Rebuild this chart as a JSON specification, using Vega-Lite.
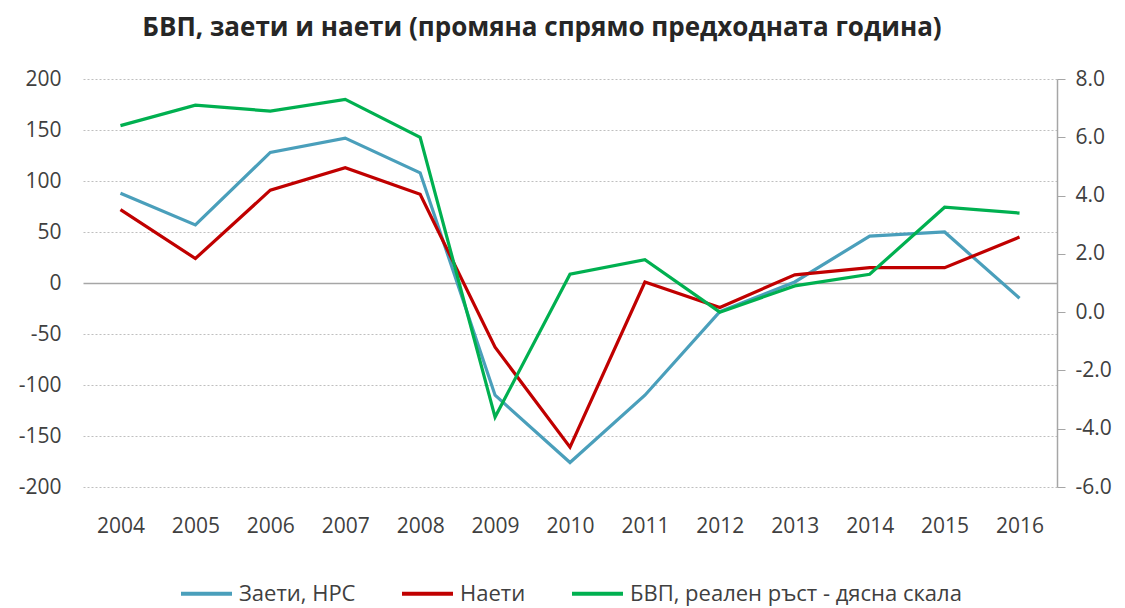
{
  "$schema": "https://vega.github.io/schema/vega-lite/v6.json",
  "width": 974,
  "height": 408,
  "autosize": {"type": "none"},
  "padding": {"left": 83, "top": 79, "right": 68, "bottom": 121},
  "background": "white",
  "title": {
    "text": "БВП, заети и наети (промяна спрямо предходната година)",
    "font": "Open Sans",
    "fontSize": 26,
    "fontWeight": "bold",
    "color": "#262626",
    "anchor": "middle",
    "offset": 27,
    "dx": -28
  },
  "config": {
    "view": {"stroke": null},
    "font": "Open Sans",
    "legend": {"layout": {"bottom": {"anchor": "middle"}}}
  },
  "data": {
    "values": [
      {"year": "2004", "series": "Заети, НРС", "value": 88},
      {"year": "2005", "series": "Заети, НРС", "value": 57},
      {"year": "2006", "series": "Заети, НРС", "value": 128},
      {"year": "2007", "series": "Заети, НРС", "value": 142},
      {"year": "2008", "series": "Заети, НРС", "value": 108},
      {"year": "2009", "series": "Заети, НРС", "value": -110},
      {"year": "2010", "series": "Заети, НРС", "value": -176},
      {"year": "2011", "series": "Заети, НРС", "value": -110},
      {"year": "2012", "series": "Заети, НРС", "value": -28},
      {"year": "2013", "series": "Заети, НРС", "value": 1},
      {"year": "2014", "series": "Заети, НРС", "value": 46},
      {"year": "2015", "series": "Заети, НРС", "value": 50},
      {"year": "2016", "series": "Заети, НРС", "value": -15},
      {"year": "2004", "series": "Наети", "value": 72},
      {"year": "2005", "series": "Наети", "value": 24},
      {"year": "2006", "series": "Наети", "value": 91},
      {"year": "2007", "series": "Наети", "value": 113},
      {"year": "2008", "series": "Наети", "value": 87},
      {"year": "2009", "series": "Наети", "value": -63},
      {"year": "2010", "series": "Наети", "value": -161},
      {"year": "2011", "series": "Наети", "value": 1},
      {"year": "2012", "series": "Наети", "value": -24},
      {"year": "2013", "series": "Наети", "value": 8},
      {"year": "2014", "series": "Наети", "value": 15},
      {"year": "2015", "series": "Наети", "value": 15},
      {"year": "2016", "series": "Наети", "value": 45},
      {"year": "2004", "series": "БВП, реален ръст - дясна скала", "value": 6.4},
      {"year": "2005", "series": "БВП, реален ръст - дясна скала", "value": 7.1},
      {"year": "2006", "series": "БВП, реален ръст - дясна скала", "value": 6.9},
      {"year": "2007", "series": "БВП, реален ръст - дясна скала", "value": 7.3},
      {"year": "2008", "series": "БВП, реален ръст - дясна скала", "value": 6.0},
      {"year": "2009", "series": "БВП, реален ръст - дясна скала", "value": -3.6},
      {"year": "2010", "series": "БВП, реален ръст - дясна скала", "value": 1.3},
      {"year": "2011", "series": "БВП, реален ръст - дясна скала", "value": 1.8},
      {"year": "2012", "series": "БВП, реален ръст - дясна скала", "value": 0.0},
      {"year": "2013", "series": "БВП, реален ръст - дясна скала", "value": 0.9},
      {"year": "2014", "series": "БВП, реален ръст - дясна скала", "value": 1.3},
      {"year": "2015", "series": "БВП, реален ръст - дясна скала", "value": 3.6},
      {"year": "2016", "series": "БВП, реален ръст - дясна скала", "value": 3.4}
    ]
  },
  "encoding": {
    "x": {
      "field": "year",
      "type": "ordinal",
      "scale": {"type": "point", "padding": 0.5},
      "axis": {
        "title": null,
        "domain": false,
        "ticks": false,
        "labelAngle": 0,
        "labelPadding": 28,
        "labelFontSize": 21,
        "labelColor": "#404040",
        "grid": false
      }
    },
    "color": {
      "field": "series",
      "type": "nominal",
      "scale": {
        "domain": ["Заети, НРС", "Наети", "БВП, реален ръст - дясна скала"],
        "range": ["#4a9fbb", "#c00000", "#00b050"]
      },
      "legend": {
        "orient": "bottom",
        "direction": "horizontal",
        "title": null,
        "symbolType": "stroke",
        "symbolStrokeWidth": 4,
        "symbolSize": 2600,
        "labelFontSize": 22,
        "labelLimit": 500,
        "labelColor": "#404040",
        "columnPadding": 38,
        "labelOffset": 5,
        "offset": 30
      }
    }
  },
  "layer": [
    {
      "transform": [{"filter": "datum.series !== 'БВП, реален ръст - дясна скала'"}],
      "mark": {"type": "line", "strokeWidth": 3.2},
      "encoding": {
        "y": {
          "field": "value",
          "type": "quantitative",
          "scale": {"domain": [-200, 200], "nice": false, "zero": false},
          "axis": {
            "title": null,
            "values": [-200, -150, -100, -50, 0, 50, 100, 150, 200],
            "labelExpr": "replace(datum.label, '−', '-')",
            "domain": false,
            "ticks": false,
            "labelPadding": 22,
            "labelFontSize": 21,
            "labelColor": "#404040",
            "grid": true,
            "gridColor": {"condition": {"test": "datum.value === 0", "value": "#a6a6a6"}, "value": "#bfbfbf"},
            "gridDash": {"condition": {"test": "datum.value === 0", "value": []}, "value": [2, 2]},
            "gridWidth": {"condition": {"test": "datum.value === 0", "value": 1.5}, "value": 1}
          }
        }
      }
    },
    {
      "transform": [{"filter": "datum.series === 'БВП, реален ръст - дясна скала'"}],
      "mark": {"type": "line", "strokeWidth": 3.2},
      "encoding": {
        "y": {
          "field": "value",
          "type": "quantitative",
          "scale": {"domain": [-6, 8], "nice": false, "zero": false},
          "axis": {
            "orient": "right",
            "title": null,
            "values": [-6, -4, -2, 0, 2, 4, 6, 8],
            "format": ".1f",
            "labelExpr": "replace(datum.label, '−', '-')",
            "grid": false,
            "domain": true,
            "domainColor": "#a6a6a6",
            "domainWidth": 1.5,
            "ticks": true,
            "tickColor": "#a6a6a6",
            "tickSize": 8,
            "labelPadding": 10,
            "labelFontSize": 21,
            "labelColor": "#404040"
          }
        }
      }
    }
  ],
  "resolve": {"scale": {"y": "independent"}}
}
